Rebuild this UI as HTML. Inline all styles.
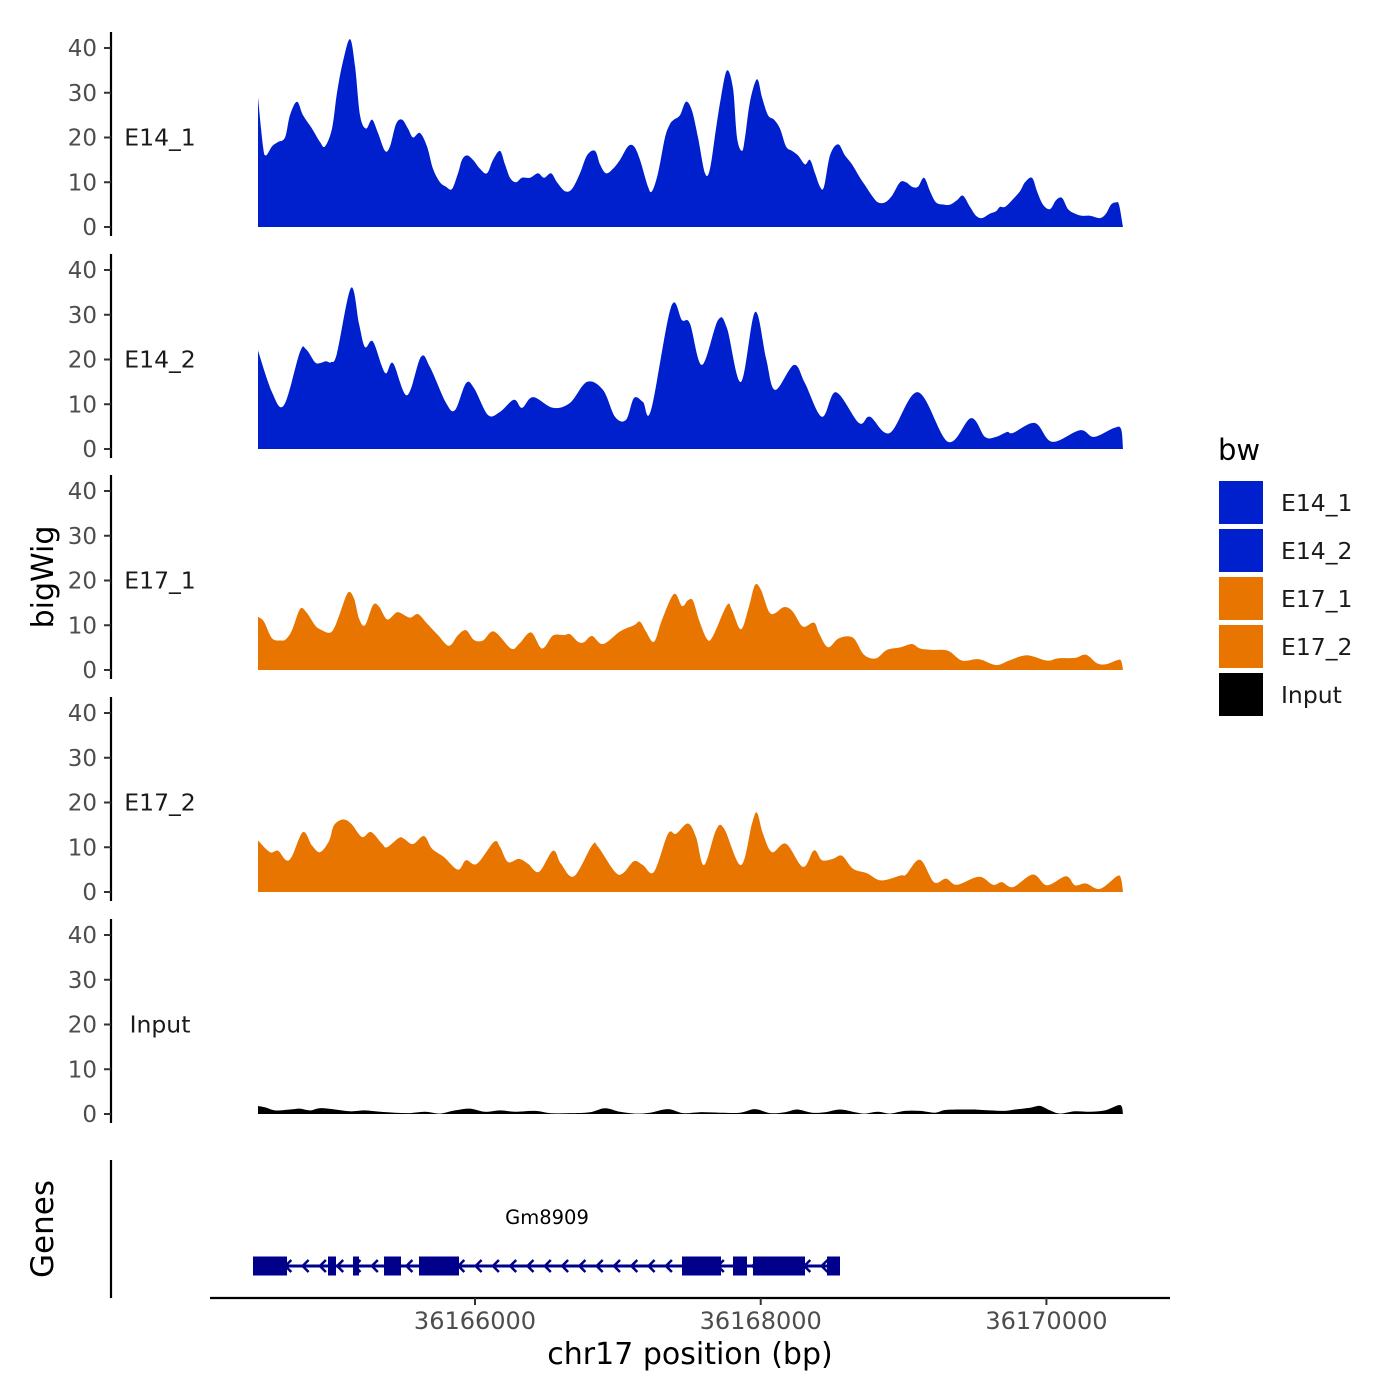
<!DOCTYPE html>
<html><head><meta charset="utf-8">
<style>
html,body{margin:0;padding:0;background:#fff;}
svg{display:block;font-family:"DejaVu Sans","Liberation Sans",sans-serif;}
</style></head>
<body>
<svg id="chart" width="1400" height="1400" viewBox="0 0 1400 1400" xmlns="http://www.w3.org/2000/svg">
<g id="tracks"></g>
<g id="genes"></g>
<g id="xaxis"></g>
<text x="0" y="0" transform="translate(53,577) rotate(-90)" text-anchor="middle" font-size="30" fill="#000">bigWig</text>
<text x="0" y="0" transform="translate(53,1229) rotate(-90)" text-anchor="middle" font-size="31" fill="#000">Genes</text>
<text x="690" y="1364" text-anchor="middle" font-size="30" fill="#000">chr17 position (bp)</text>
<g id="legend"></g>
</svg>
<script>
// ---- data (positions are bp offsets from region start) ----
const regionStart = 36164481;
const regionLen = 6055;
const sampleNames = ["E14_1","E14_2","E17_1","E17_2","Input"];
const sampleColors = ["#0020CE","#0020CE","#E87500","#E87500","#000000"];
const yTicks = [0,10,20,30,40];
const xTicks = [36166000,36168000,36170000];
const xTickLabels = ["36166000","36168000","36170000"];

const posE14_1 = [0,35,56,98,140,189,224,273,315,378,434,469,518,553,595,644,679,714,756,798,840,889,924,966,1008,1050,1085,1134,1183,1225,1274,1316,1358,1400,1428,1463,1505,1554,1603,1645,1694,1729,1764,1806,1848,1904,1960,2002,2051,2093,2149,2198,2254,2303,2359,2394,2436,2485,2534,2590,2632,2674,2730,2758,2800,2849,2884,2912,2954,2996,3038,3080,3129,3164,3206,3241,3283,3325,3353,3388,3409,3444,3493,3528,3570,3612,3654,3696,3738,3780,3829,3864,3899,3934,3962,4004,4060,4109,4158,4214,4256,4298,4340,4389,4438,4494,4536,4578,4620,4662,4704,4746,4802,4844,4893,4935,4984,5026,5068,5124,5166,5194,5229,5278,5334,5369,5418,5453,5495,5544,5586,5628,5670,5719,5768,5824,5894,5936,5971,6006,6027,6055];
const valE14_1 = [29,18,16,18,19,20,25,28,25,22,19,18,22,30,37,42,36,25,22,24,21,17,18,23,24,22,20,21,18,13,10,9,8.5,12,15,16,15,13,12,15,17,14,11,10,11,11,12,11,12,10,8,8.5,12,16,17,14,12,13,15,18,18,15,9,8,12,20,23,24,25,28,26,20,12,13,22,29,35,31,20,17,20,28,33,29,25,24,22,18,17,16,14,15,12,9,9,16,18.5,16,14,11,9,7,5.5,5.5,7,10,10,9,9,11,8,5.5,5,5,6,7,4.5,2.5,2,3,3.5,4.5,4.5,6,8,10,11,8,5,4,6,6.5,4,3,2.5,2.5,2,3,5,5.5,5,0];

const posE14_2 = [0,98,182,294,336,399,434,476,511,553,651,707,749,805,889,945,1043,1141,1204,1316,1379,1456,1512,1610,1694,1792,1848,1925,2065,2184,2303,2415,2499,2576,2632,2695,2751,2891,2968,3024,3108,3220,3283,3381,3479,3556,3619,3752,3829,3948,4046,4207,4284,4424,4620,4830,4991,5089,5166,5243,5285,5439,5558,5754,5852,5992,6041,6055];
const valE14_2 = [22,12.7,9.8,21.7,22.3,19.4,19.2,19.6,19.4,21.4,36,28,22.8,24,17,19.2,12,20.6,18.3,10.3,8.7,14.7,13.6,7.6,8.3,11,9.2,11.6,9.2,10.3,15,13.2,7.2,6.5,11.4,10.5,8.7,31.7,28.8,28,18.8,28.8,27,15,30.6,20.3,13.2,18.8,14.7,7.2,12.7,5.8,7.2,3.6,12.7,1.6,6.9,2.7,2.7,3.8,3.6,5.8,1.6,4.2,2.7,4.7,4.5,0];

const posE17_1 = [0,42,98,161,196,238,294,336,399,434,497,532,574,630,672,707,749,805,847,903,966,1001,1064,1120,1183,1260,1337,1400,1456,1512,1575,1652,1771,1827,1911,1988,2065,2142,2184,2240,2282,2338,2415,2534,2632,2674,2716,2772,2828,2912,2968,3010,3045,3087,3143,3185,3283,3318,3381,3437,3479,3521,3577,3619,3675,3717,3752,3815,3892,3927,3990,4067,4165,4242,4326,4403,4501,4578,4634,4718,4830,4928,5047,5166,5264,5383,5523,5600,5719,5796,5873,5936,6013,6041,6055];
const valE17_1 = [11.9,10.8,7.1,6.6,6.9,8.9,13.6,13,10,9.1,8.3,9.3,12.7,17.3,16,11.5,10,14.5,14.2,11.3,12.8,12.7,11.7,12.5,10.4,7.8,5.4,7.8,8.9,6.7,6.6,8.6,4.8,5.8,8.4,4.8,7.7,7.8,8,6.3,6.2,7.6,5.8,8.6,10,10.8,8.6,6.3,11.2,17,14.3,15.6,15.5,11.2,6.9,7.6,14.5,13.4,9.1,14.2,19,17.9,13,12.7,14,13.8,12.7,9.7,10.6,8.2,5.1,7.1,7.2,3.4,2.6,4.5,5.1,5.8,4.8,4.5,4.3,2.1,2.4,1.1,2.2,3.3,2.1,2.6,2.7,3.4,1.5,1.3,2.2,2.1,0];

const posE17_2 = [0,84,140,196,238,315,378,434,497,532,595,651,728,791,868,903,987,1022,1085,1162,1218,1302,1400,1456,1533,1652,1694,1750,1827,1890,1967,2065,2121,2212,2338,2380,2499,2555,2632,2695,2772,2870,2926,3010,3066,3122,3206,3262,3381,3458,3493,3535,3598,3696,3815,3892,3948,4025,4088,4165,4263,4361,4501,4536,4634,4732,4816,4893,5047,5145,5208,5285,5425,5523,5656,5719,5796,5894,6013,6041,6055];
const valE17_2 = [11.5,8.9,9.2,7.1,8,13.4,10.4,8.9,11.4,14.9,16.2,15.3,12.3,13.4,10.8,10,12.1,11.9,10.7,12.5,9.7,7.8,5,7.1,6.3,11.2,10.1,6.7,7.4,6.3,4.5,9.2,6.3,3.5,10.4,10.1,4.5,4.2,6.9,6,4.5,13,13,15.3,12.3,6,13.8,14.2,6,15.3,17.7,13,8.9,10.8,5.6,9.3,7.1,7.4,8.1,5.2,4.2,2.6,3.7,3.9,7.2,2.2,3,1.6,3.4,1.6,2.2,1.1,3.9,1.5,3.5,1.5,1.9,0.7,3.5,3,0];

const posInput = [0,49,119,224,294,364,434,539,644,749,854,959,1064,1169,1274,1379,1484,1589,1694,1799,1939,2044,2184,2324,2429,2534,2639,2744,2870,2975,3094,3234,3374,3479,3584,3689,3773,3878,3969,4074,4179,4249,4340,4424,4529,4634,4739,4809,4914,5019,5124,5229,5299,5404,5474,5544,5614,5719,5824,5929,6034,6055];
const valInput = [1.8,1.5,0.8,1,1.2,0.8,1.3,1,0.6,0.8,0.5,0.3,0.2,0.5,0.1,0.8,1.2,0.5,0.8,0.5,0.7,0.2,0.2,0.4,1.3,0.5,0.1,0.3,1.1,0.2,0.4,0.3,0.3,1.1,0.2,0.4,1,0.3,0.4,1,0.4,0.1,0.5,0.1,0.7,0.7,0.3,0.9,1,1,0.8,0.7,1,1.4,1.8,0.8,0.1,0.6,0.5,0.8,2,0];

const geneName = "Gm8909";
const geneStart = -35, geneEnd = 4074;
const exonStarts = [-35,490,665,882,1127,2968,3325,3465,3983];
const exonEnds   = [203,546,707,1001,1407,3241,3423,3829,4074];

// ---- scales ----
const NS="http://www.w3.org/2000/svg";
const X0=258, X1=1123;
function xOff(o){return X0+(o/regionLen)*(X1-X0);}
function xBp(bp){return xOff(bp-regionStart);}
const panelBase=[227,449,670,892,1114];
const pxPerUnit=179/40;
function yVal(p,v){return panelBase[p]-v*pxPerUnit;}
function el(tag,attrs,parent){const e=document.createElementNS(NS,tag);for(const k in attrs)e.setAttribute(k,attrs[k]);parent.appendChild(e);return e;}

function smoothPath(xs,ys,base){
  let d=`M${xs[0]},${base}L${xs[0]},${ys[0]}`;
  for(let i=0;i<xs.length-1;i++){
    const x0=xs[Math.max(i-1,0)],y0=ys[Math.max(i-1,0)];
    const x1=xs[i],y1=ys[i],x2=xs[i+1],y2=ys[i+1];
    const x3=xs[Math.min(i+2,xs.length-1)],y3=ys[Math.min(i+2,ys.length-1)];
    const t=0.5/3;
    let c1x=x1+(x2-x0)*t,c1y=y1+(y2-y0)*t,c2x=x2-(x3-x1)*t,c2y=y2-(y3-y1)*t;
    c1x=Math.min(Math.max(c1x,x1),x2);c2x=Math.min(Math.max(c2x,x1),x2);
    c1y=Math.min(c1y,base);c2y=Math.min(c2y,base);
    d+=`C${c1x.toFixed(1)},${c1y.toFixed(1)} ${c2x.toFixed(1)},${c2y.toFixed(1)} ${x2.toFixed(1)},${y2.toFixed(1)}`;
  }
  d+=`L${xs[xs.length-1]},${base}Z`;
  return d;
}

const tracks=document.getElementById('tracks');
const allPos=[posE14_1,posE14_2,posE17_1,posE17_2,posInput];
const allVal=[valE14_1,valE14_2,valE17_1,valE17_2,valInput];
for(let p=0;p<5;p++){
  const g=el('g',{},tracks);
  
  
  const xs=allPos[p].map(xOff), ys=allVal[p].map(v=>yVal(p,v));
  const area=el('path',{d:smoothPath(xs,ys,panelBase[p]),fill:sampleColors[p]},g);
  
  
  const ax=el('line',{x1:111,x2:111,y1:yVal(p,40)-16,y2:panelBase[p]+9,stroke:'#000','stroke-width':2.2},g);
  
  
  yTicks.forEach(t=>{
    const y=yVal(p,t);
    const tk=el('line',{x1:104,x2:111,y1:y,y2:y,stroke:'#333','stroke-width':2},g);
    
    
    const tl=el('text',{x:97,y:y+8,'text-anchor':'end','font-size':23,fill:'#4d4d4d'},g);
    tl.textContent=t;
    
    
  });
  const lab=el('text',{x:160,y:yVal(p,20)+8,'text-anchor':'middle','font-size':23.5,fill:'#1a1a1a'},g);
  lab.textContent=sampleNames[p];
  
  
}

// genes
const genes=document.getElementById('genes');
const gy=1266, gc="#00008B";
const gax=el('line',{x1:111,x2:111,y1:1160,y2:1298,stroke:'#000','stroke-width':2.2},genes);


const gl=el('line',{x1:xOff(geneStart),x2:xOff(geneEnd),y1:gy,y2:gy,stroke:gc,'stroke-width':3},genes);


for(let x=xOff(geneStart)+17;x<xOff(geneEnd);x+=17.3){
  const a=el('path',{d:`M${x+4},${gy-6}L${x-2},${gy}L${x+4},${gy+6}`,fill:'none',stroke:gc,'stroke-width':2.5},genes);
  
  
}
for(let i=0;i<exonStarts.length;i++){
  const x1=xOff(exonStarts[i]),x2=xOff(exonEnds[i]);
  const r=el('rect',{x:x1,y:gy-9.5,width:x2-x1,height:19,fill:gc},genes);
  
  
}
const gt=el('text',{x:547,y:1224,'text-anchor':'middle','font-size':19.5,fill:'#000'},genes);
gt.textContent=geneName;



// x axis
const xa=document.getElementById('xaxis');
const xl=el('line',{x1:210,x2:1170,y1:1298,y2:1298,stroke:'#000','stroke-width':2.2},xa);


xTicks.forEach((t,i)=>{
  const x=xBp(t);
  const tk=el('line',{x1:x,x2:x,y1:1298,y2:1305,stroke:'#333','stroke-width':2},xa);
  
  
  const tl=el('text',{x:x,y:1329,'text-anchor':'middle','font-size':24,fill:'#4d4d4d'},xa);
  tl.textContent=xTickLabels[i];
  
  
});

// legend
const lg=document.getElementById('legend');
const lt=el('text',{x:1218,y:460,'font-size':29,fill:'#000'},lg);
lt.textContent='bw';


sampleNames.forEach((n,i)=>{
  const g=el('g',{},lg);
  
  
  const y=481+i*48;
  el('rect',{x:1219,y:y,width:44,height:43,fill:sampleColors[i]},g);
  const t=el('text',{x:1281,y:y+30,'font-size':23.5,fill:'#1a1a1a'},g);
  t.textContent=n;
});
</script>
</body></html>
